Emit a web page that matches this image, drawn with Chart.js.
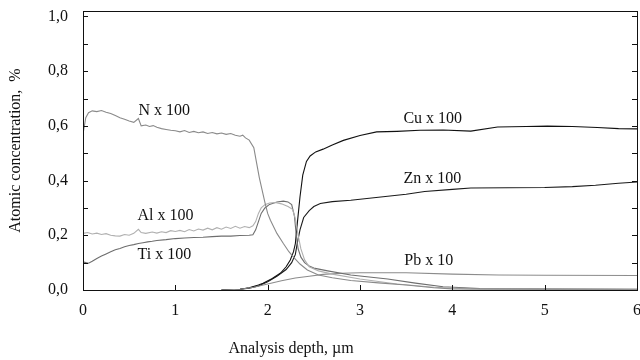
<!DOCTYPE html>
<html>
<head>
<meta charset="utf-8">
<script src="https://cdn.jsdelivr.net/npm/chart.js@4.4.1/dist/chart.umd.min.js"></script>
<style>
  html, body { margin: 0; padding: 0; background: #fff; }
  #wrap { width: 640px; height: 360px; }
</style>
</head>
<body>
<div id="wrap"><canvas id="chart"></canvas></div>
<script>
// depth profiles (depth in µm, scaled concentration)
const nDepth = [0, 0.03, 0.06, 0.1, 0.15, 0.2, 0.25, 0.3, 0.35, 0.4, 0.45, 0.5, 0.55, 0.6, 0.63, 0.68, 0.72, 0.76, 0.8, 0.85, 0.9, 0.95, 1.0, 1.05, 1.1, 1.15, 1.2, 1.25, 1.3, 1.35, 1.4, 1.45, 1.5, 1.55, 1.6, 1.65, 1.7, 1.73, 1.76, 1.8, 1.85, 1.88, 1.91, 1.94, 1.97, 2.0, 2.03, 2.1, 2.17, 2.23, 2.28, 2.35, 2.43, 2.55, 2.7, 2.9, 3.2, 3.5, 3.8, 4.0, 5.0, 6.0];
const nValue = [0.57, 0.63, 0.648, 0.655, 0.652, 0.656, 0.65, 0.645, 0.638, 0.63, 0.624, 0.618, 0.613, 0.627, 0.6, 0.603, 0.598, 0.601, 0.595, 0.59, 0.587, 0.584, 0.582, 0.578, 0.583, 0.576, 0.58, 0.575, 0.578, 0.572, 0.576, 0.571, 0.574, 0.569, 0.572, 0.566, 0.562, 0.566, 0.556, 0.548, 0.52, 0.465, 0.41, 0.365, 0.32, 0.28, 0.255, 0.207, 0.17, 0.14, 0.12, 0.095, 0.073, 0.055, 0.045, 0.035, 0.026, 0.018, 0.008, 0.004, 0.003, 0.003];

const alDepth = [0, 0.05, 0.1, 0.15, 0.2, 0.25, 0.3, 0.35, 0.4, 0.45, 0.5, 0.55, 0.6, 0.63, 0.68, 0.75, 0.8, 0.85, 0.9, 0.95, 1.0, 1.05, 1.1, 1.15, 1.2, 1.25, 1.3, 1.35, 1.4, 1.45, 1.5, 1.55, 1.6, 1.65, 1.7, 1.75, 1.8, 1.84, 1.87, 1.9, 1.93, 1.97, 2.02, 2.08, 2.15, 2.22, 2.27, 2.3, 2.33, 2.36, 2.4, 2.45, 2.55, 2.7, 3.0, 3.4, 3.8, 4.2, 6.0];
const alValue = [0.207, 0.21, 0.205, 0.208, 0.203, 0.206, 0.2, 0.198, 0.197, 0.203, 0.2, 0.207, 0.222, 0.21, 0.207, 0.212, 0.208, 0.213, 0.21, 0.217, 0.214, 0.218, 0.213, 0.221, 0.216, 0.223, 0.219, 0.226, 0.22, 0.228, 0.222, 0.23, 0.225, 0.233, 0.226, 0.232, 0.228, 0.235, 0.25, 0.28, 0.3, 0.312, 0.318, 0.32, 0.315, 0.305, 0.295, 0.26, 0.2, 0.15, 0.11, 0.085, 0.07, 0.058, 0.04, 0.022, 0.01, 0.004, 0.002];

const tiDepth = [0, 0.03, 0.06, 0.1, 0.15, 0.2, 0.25, 0.3, 0.35, 0.4, 0.45, 0.5, 0.55, 0.6, 0.65, 0.7, 0.75, 0.8, 0.9, 1.0, 1.1, 1.2, 1.3, 1.4, 1.5, 1.6, 1.7, 1.8, 1.84, 1.87, 1.9, 1.93, 1.97, 2.02, 2.1, 2.17, 2.22, 2.26, 2.29, 2.31, 2.33, 2.36, 2.4, 2.45, 2.5, 2.65, 2.9, 3.3, 3.6, 3.9, 4.3, 6.0];
const tiValue = [0.103, 0.1, 0.098, 0.105, 0.115, 0.124, 0.132, 0.14, 0.147, 0.152, 0.158, 0.163, 0.166, 0.17, 0.173, 0.176, 0.178, 0.181, 0.184, 0.188, 0.19, 0.192, 0.193, 0.195, 0.197, 0.197, 0.199, 0.2, 0.202, 0.22, 0.25, 0.28, 0.3, 0.313, 0.322, 0.325, 0.322, 0.312, 0.27, 0.2, 0.15, 0.12, 0.1, 0.088, 0.08, 0.07, 0.055, 0.04, 0.025, 0.012, 0.005, 0.003];

const cuDepth = [1.5, 1.7, 1.8, 1.9, 1.95, 2.05, 2.14, 2.2, 2.245, 2.28, 2.3, 2.32, 2.35, 2.38, 2.42, 2.46, 2.52, 2.6, 2.7, 2.82, 3.0, 3.18, 3.4, 3.65, 3.9, 4.2, 4.49, 4.8, 5.03, 5.3, 5.57, 5.8, 6.0];
const cuValue = [0, 0.003, 0.008, 0.018, 0.025, 0.042, 0.062, 0.085, 0.11, 0.14, 0.17, 0.24, 0.34, 0.42, 0.47, 0.49, 0.505, 0.515, 0.53, 0.547, 0.565, 0.578, 0.58, 0.584, 0.585, 0.581, 0.596, 0.598, 0.599, 0.598, 0.594, 0.59, 0.589];

const znDepth = [1.5, 1.7, 1.8, 1.9, 2.0, 2.1, 2.2, 2.26, 2.3, 2.32, 2.35, 2.39, 2.45, 2.5, 2.57, 2.7, 2.9, 3.2, 3.5, 3.7, 4.0, 4.2, 4.6, 5.0, 5.3, 5.55, 5.8, 6.0];
const znValue = [0, 0.003, 0.007, 0.015, 0.03, 0.05, 0.075, 0.1, 0.13, 0.17, 0.22, 0.265, 0.29, 0.305, 0.316, 0.323, 0.328, 0.339, 0.35, 0.36, 0.368, 0.373, 0.374, 0.375, 0.378, 0.383, 0.39, 0.395];

const pbDepth = [1.5, 1.7, 1.85, 2.0, 2.15, 2.3, 2.45, 2.6, 2.8, 3.0, 3.5, 4.0, 4.5, 5.0, 6.0];
const pbValue = [0, 0.003, 0.01, 0.022, 0.034, 0.044, 0.05, 0.057, 0.061, 0.063, 0.063, 0.058, 0.055, 0.054, 0.053];

const xTicks = [0, 1, 2, 3, 4, 5, 6];
const yTicks = [0, 0.2, 0.4, 0.6, 0.8, 1.0];
const yMinorTicks = [0, 0.1, 0.2, 0.3, 0.4, 0.5, 0.6, 0.7, 0.8, 0.9, 1.0];

// curve labels, anchored in data coordinates
const curveLabels = [
  { text: 'N x 100', x: 0.6, y: 0.655 },
  { text: 'Al x 100', x: 0.59, y: 0.27 },
  { text: 'Ti x 100', x: 0.59, y: 0.128 },
  { text: 'Cu x 100', x: 3.47, y: 0.625 },
  { text: 'Zn x 100', x: 3.47, y: 0.407 },
  { text: 'Pb x 10', x: 3.48, y: 0.107 }
];

const FONT = '"Liberation Serif", "Times New Roman", serif';

const toPoints = (xs, ys) => xs.map((x, i) => ({ x, y: ys[i] }));

const line = (label, xs, ys, color) => ({
  label,
  data: toPoints(xs, ys),
  borderColor: color,
  borderWidth: 1.1,
  pointRadius: 0,
  fill: false,
  tension: 0
});

const framePlugin = {
  id: 'frame',
  afterDatasetsDraw(chart) {
    const { ctx, chartArea: a, scales } = chart;
    ctx.save();
    ctx.strokeStyle = '#111';
    ctx.lineWidth = 1;
    ctx.strokeRect(a.left + 0.5, a.top + 0.5, a.right - a.left, a.bottom - a.top);

    ctx.beginPath();
    yMinorTicks.forEach((v) => {
      const y = Math.round(scales.y.getPixelForValue(v)) + 0.5;
      ctx.moveTo(a.left, y);
      ctx.lineTo(a.left + 5, y);
      ctx.moveTo(a.right, y);
      ctx.lineTo(a.right - 5, y);
    });
    xTicks.forEach((v) => {
      const x = Math.round(scales.x.getPixelForValue(v)) + 0.5;
      ctx.moveTo(x, a.bottom);
      ctx.lineTo(x, a.bottom - 5);
    });
    ctx.stroke();

    ctx.fillStyle = '#111';
    ctx.font = '16px ' + FONT;
    ctx.textBaseline = 'middle';
    ctx.textAlign = 'left';
    curveLabels.forEach((l) => {
      ctx.fillText(l.text, scales.x.getPixelForValue(l.x), scales.y.getPixelForValue(l.y));
    });

    ctx.textAlign = 'center';
    ctx.fillText('Analysis depth, \u00b5m', 291, 349);
    ctx.translate(16, (a.top + a.bottom) / 2);
    ctx.rotate(-Math.PI / 2);
    ctx.fillText('Atomic concentration,  %', 0, 0);
    ctx.restore();
  }
};

new Chart(document.getElementById('chart').getContext('2d'), {
  type: 'line',
  data: {
    datasets: [
      line('N x 100', nDepth, nValue, '#8a8a8a'),
      line('Al x 100', alDepth, alValue, '#b0b0b0'),
      line('Ti x 100', tiDepth, tiValue, '#6e6e6e'),
      line('Pb x 10', pbDepth, pbValue, '#8c8c8c'),
      line('Zn x 100', znDepth, znValue, '#1a1a1a'),
      line('Cu x 100', cuDepth, cuValue, '#111111')
    ]
  },
  options: {
    animation: false,
    responsive: true,
    maintainAspectRatio: false,
    layout: { padding: { top: 11, right: 3, left: 0, bottom: 0 } },
    plugins: {
      legend: { display: false },
      tooltip: { enabled: false }
    },
    scales: {
      x: {
        type: 'linear',
        min: 0,
        max: 6,
        afterBuildTicks: (s) => { s.ticks = xTicks.map((v) => ({ value: v })); },
        afterFit: (s) => {
          s.height = 70;
          s.paddingLeft = 0;
          s.paddingRight = 0;
        },
        grid: { display: false, drawTicks: false },
        border: { display: false },
        ticks: {
          padding: 11,
          color: '#111',
          font: { family: FONT, size: 16 },
          maxRotation: 0,
          callback: (v) => String(v)
        }
      },
      y: {
        type: 'linear',
        min: 0,
        max: 1.02,
        afterBuildTicks: (s) => { s.ticks = yTicks.map((v) => ({ value: v })); },
        afterFit: (s) => {
          s.width = 83;
          s.paddingTop = 0;
          s.paddingBottom = 0;
        },
        grid: { display: false, drawTicks: false },
        border: { display: false },
        ticks: {
          padding: 15,
          color: '#111',
          font: { family: FONT, size: 16 },
          callback: (v) => v.toFixed(1).replace('.', ',')
        }
      }
    }
  },
  plugins: [framePlugin]
});
</script>
</body>
</html>
